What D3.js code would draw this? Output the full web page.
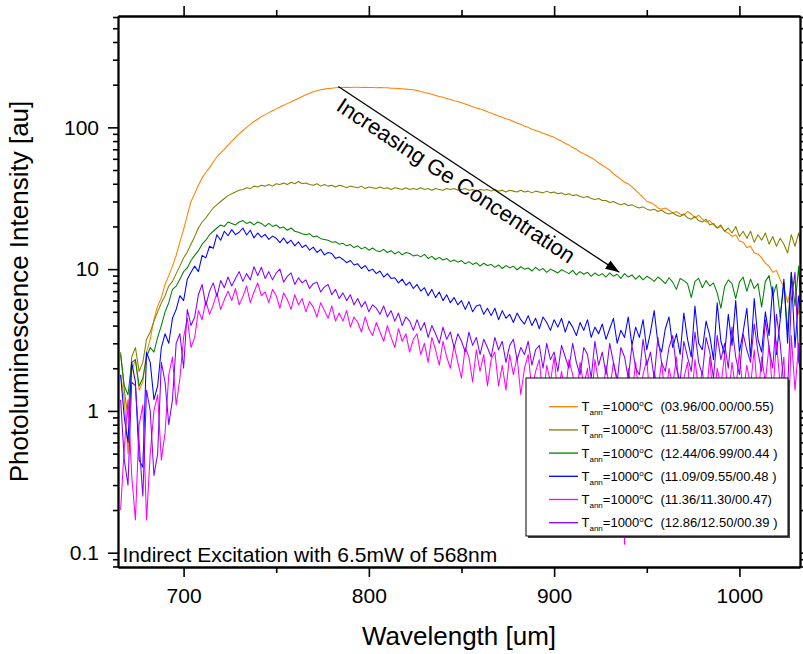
<!DOCTYPE html>
<html>
<head>
<meta charset="utf-8">
<script src="https://cdn.jsdelivr.net/npm/d3@7"></script>
<style>
  body { margin: 0; background: #fff; }
  svg { font-family: "Liberation Sans", Arial, sans-serif; }
</style>
</head>
<body>
<svg width="803" height="654"></svg>
<script>
// wavelength grid [nm], one row = 20 nm
var wavelength = [
  666,668,670,672,674,676,678,680,682,684,
  686,688,690,692,694,696,698,700,702,704,
  706,708,710,712,714,716,718,720,722,724,
  726,728,730,732,734,736,738,740,742,744,
  746,748,750,752,754,756,758,760,762,764,
  766,768,770,772,774,776,778,780,782,784,
  786,788,790,792,794,796,798,800,802,804,
  806,808,810,812,814,816,818,820,822,824,
  826,828,830,832,834,836,838,840,842,844,
  846,848,850,852,854,856,858,860,862,864,
  866,868,870,872,874,876,878,880,882,884,
  886,888,890,892,894,896,898,900,902,904,
  906,908,910,912,914,916,918,920,922,924,
  926,928,930,932,934,936,938,940,942,944,
  946,948,950,952,954,956,958,960,962,964,
  966,968,970,972,974,976,978,980,982,984,
  986,988,990,992,994,996,998,1000,1002,1004,
  1006,1008,1010,1012,1014,1016,1018,1020,1022,1024,
  1026,1028,1030,1032,1034
];

var orangeValues = [
  1.8,1.2,0.5,1.9,2.3,1.4,1.6,2.6,3.2,4.4,
  5.5,6.3,7.8,9.0,10.5,12.5,15.5,19,24,30,
  34,39,44,48,52,57,62,66,70,75,
  80,85,90,95,100,105,110,114,119,123,
  127,131,135,139,143,147,151,156,160,165,
  170,174,178,181,184,186,188,189,190,191,
  191,192,191,192,192,191,192,191,191,190,
  191,190,190,189,189,188,187,186,185,184,
  182,179,176,174,171,168,165,163,160,157,
  154,152,149,146,143,140,137,135,132,129,
  126,123,120,118,115,113,110,107,105,102,
  100,97,95,93,91,89,87,85,82,80,
  77,75,72,70,67,65,63,61,59,56,
  54,52,50,47,45,43,41,40,38,36,
  34,32,30,29.5,28.5,27,26.5,27,26,25,
  25.5,24.5,24,25.5,24.5,23,24,22.5,21.5,22,
  20.5,19.5,20,18.5,18,17,17.5,15.8,15.5,14.2,
  14.5,13,12.8,12,11,10.5,9.5,9.8,8.4,7.5,
  5.8,7.5,8.2,4.8,6.0
];
var oliveValues = [
  2.6,1.4,0.9,2.4,2.8,1.9,2.2,3.2,3.6,4.3,
  5.0,5.8,6.5,7.6,8.2,9.3,10.5,12,13.2,15,
  17,19.5,21.5,23,25,27,28.5,30,31.5,33,
  34,35,36,36.5,37.5,37,38.5,38,39,38.5,
  39.5,38.5,40,39.5,40.5,39.5,41,40,41.5,40,
  40.5,39.5,39,40,38.5,39.5,38.5,39,38,39,
  38.5,37.5,38.5,38,37.5,38.5,37,38,37.5,37,
  38,37,37.5,36.5,37.5,37,36.5,37.5,36.5,37,
  36.5,37.5,36.5,37,36,37,36.5,36,37,36.5,
  37,36,36.5,37,36,36.5,35.5,36.5,36,36.5,
  35.5,36.5,35.5,36,35,36,35.5,35,36,35,
  35.5,34.5,35.5,35,34.5,35.5,34.5,35,34,34.5,
  33.5,34,33,33.5,32.5,32,32.5,31.5,31,31.5,
  30.5,30.5,29.5,30,29,28.5,29,28,28.5,27.5,
  27,27.5,26.5,26,26.5,25.5,26,25,24.5,25,
  24,23.5,24.5,23,22.5,23.5,22,21.5,22.5,20.5,
  21,19.5,20.5,18.5,19.5,18,20,17,18.5,16.5,
  18.5,15.5,17.5,16,18,15,17,14.5,16.5,15,
  13,17.5,14.5,18,12.5
];
var greenValues = [
  2.5,1.5,1.3,2.2,2.3,1.5,1.7,2.4,2.8,2.6,
  3.3,4.0,5.0,5.8,7.2,7.6,8.5,9.6,10.2,11.5,
  12.5,13.5,15,16,17.5,18.5,19.5,20.5,20,21.5,
  21,20.5,21.5,22,21,21.5,20.5,21.5,21,20,
  21,20,20.5,19.5,19.8,18.8,19.5,18.5,18.2,17.8,
  17.5,17.8,16.9,17.1,16.4,16.2,16.0,15.5,15.6,15.0,
  15.2,14.6,14.9,14.2,14.6,13.9,14.3,13.6,14.1,13.5,
  13.3,13.8,13.1,13.5,12.8,13.3,12.6,13.1,12.9,12.4,
  12.6,12.2,12.7,11.9,12.3,11.7,12.1,11.6,11.9,11.3,
  11.6,11.2,11.5,10.9,11.3,10.8,11.1,10.5,11.0,10.6,
  10.8,10.3,10.7,10.1,10.6,10.2,10.5,9.9,10.4,10.0,
  10.2,9.7,10.3,9.8,10.1,9.5,10.0,9.7,9.4,9.9,
  9.6,9.3,9.8,9.1,9.6,9.2,9.5,8.9,9.4,9.0,
  9.3,8.8,9.4,8.9,9.2,8.6,9.3,8.8,9.1,8.5,
  9.0,8.4,8.9,8.6,8.2,8.8,8.4,7.9,8.7,8.1,
  7.2,8.6,8.3,7.9,6.3,8.2,8.6,7.4,8.3,7.6,
  8.0,6.8,5.3,7.5,8.4,7.9,6.2,8.1,8.8,7.0,
  8.5,7.3,7.9,5.4,8.2,9.0,6.5,7.8,4.6,8.0,
  3.6,9.5,5.5,10.5,3.2
];
var blueValues = [
  1.8,0.9,0.6,2.2,1.6,0.45,0.4,2.6,2.2,1.2,
  1.5,2.8,3.5,3.0,4.5,5.2,6.5,6.0,8.5,9.5,
  10.5,9.6,12.5,12,14.5,14,17.5,16,18.5,17.2,
  19,17.5,18.2,19.5,17.4,18.8,16.6,18,16.8,17.6,
  16.2,17.1,16.5,15.4,16.6,15.2,16.0,14.6,15.6,14.2,
  14.8,13.6,14.3,13.1,13.8,12.6,13.1,12.9,11.9,12.2,
  11.7,11.1,11.5,10.7,10.9,10.1,10.6,9.7,10.0,9.3,
  9.7,8.8,9.3,8.6,8.7,8.0,8.5,7.7,8.1,7.3,
  7.8,7.0,7.4,6.5,7.2,6.3,6.9,6.0,6.6,5.8,
  6.3,5.6,6.0,5.2,5.9,5.0,5.5,5.6,4.8,5.3,
  4.7,5.3,4.4,5.1,4.5,4.8,4.2,4.9,4.4,4.1,
  4.7,4.0,4.5,3.8,4.6,4.2,3.7,4.4,3.9,4.5,
  3.6,4.3,3.9,3.4,4.2,3.7,4.4,3.3,3.9,3.5,
  4.1,3.2,3.8,4.5,3.0,3.7,3.3,4.6,2.9,3.9,
  3.3,4.4,2.7,3.6,5.1,3.0,2.6,3.8,4.6,2.8,
  3.5,2.5,4.9,3.2,2.4,5.5,3.0,2.7,4.3,3.4,
  2.3,5.8,3.1,2.5,4.8,2.9,6.0,2.6,3.6,5.3,
  2.4,6.2,3.2,2.6,5.0,3.4,7.5,2.5,4.4,8.5,
  3.0,9.5,2.8,6.5,4.0
];
var magentaValues = [
  0.2,0.55,1.2,0.35,0.17,0.8,1.1,0.17,0.5,1.0,
  1.3,0.45,0.7,1.8,2.4,1.1,1.7,3.3,4.5,2.8,
  3.3,5.1,4.4,6.0,4.8,5.6,6.8,5.2,6.1,7.0,
  6.0,7.3,5.6,6.4,7.6,5.8,6.9,8.0,6.5,6.9,
  5.8,7.2,6.5,5.3,6.8,6.1,5.2,6.6,5.6,6.2,
  5.0,5.9,5.4,4.6,5.8,5.1,4.5,5.5,4.3,4.9,
  4.3,5.1,3.9,4.6,4.2,3.6,4.6,3.8,3.4,4.2,
  3.6,3.1,4.0,3.3,2.8,3.8,3.1,3.5,2.6,3.2,
  3.5,2.5,3.0,2.2,3.3,2.7,2.1,3.1,2.4,2.0,
  2.9,2.2,1.7,2.8,2.4,1.6,2.7,1.9,2.5,1.5,
  2.3,2.6,1.5,2.1,1.4,2.5,1.8,2.4,1.3,2.0,
  2.5,1.4,1.9,2.3,1.2,2.1,1.6,2.4,1.3,1.9,
  1.3,2.3,1.8,1.2,2.2,1.5,2.0,1.1,2.3,1.6,
  1.2,2.1,1.4,2.2,1.7,1.1,0.115,2.0,1.3,2.2,
  1.2,1.8,2.3,1.1,1.9,1.4,2.2,1.2,2.0,1.5,
  2.4,1.2,1.7,2.2,1.1,2.3,1.4,1.9,1.2,2.4,
  1.1,2.0,1.5,2.5,1.2,2.2,1.4,2.6,1.3,2.1,
  1.5,2.7,1.2,2.4,1.6,2.9,1.3,3.1,1.5,2.4,
  0.55,3.4,1.4,3.0,1.2
];
var violetValues = [
  1.2,0.45,0.3,1.6,1.5,0.6,0.25,1.4,1.0,0.35,
  0.5,2.2,1.6,0.8,1.2,3.0,3.5,2.0,5.2,4.0,
  4.6,6.6,7.8,5.5,7.0,8.0,6.4,8.3,7.4,8.8,
  7.6,8.6,9.6,8.2,9.3,8.4,10.4,9.0,10.3,8.6,
  9.6,8.4,9.4,10.0,8.1,8.9,9.4,7.8,8.7,8.0,
  8.4,7.3,7.9,8.1,6.9,7.5,7.8,6.6,7.2,6.2,
  6.8,6.0,6.6,5.6,6.2,5.4,5.9,5.0,5.6,5.3,
  4.8,5.5,4.6,5.1,4.3,4.9,4.0,4.6,4.3,3.7,
  4.4,3.7,4.2,3.3,4.0,3.5,3.0,3.9,3.2,3.6,
  2.8,3.5,3.1,2.6,3.6,2.9,3.3,2.5,3.2,2.8,
  2.4,3.3,2.7,3.1,2.2,2.9,3.2,2.3,2.8,2.5,
  3.1,2.1,2.7,2.9,2.0,3.0,2.3,2.6,1.9,2.9,
  2.4,2.0,3.0,2.2,1.8,2.8,2.5,1.7,3.1,2.1,
  2.6,1.8,3.0,2.2,1.6,2.8,2.4,1.7,2.9,2.0,
  1.8,3.2,2.1,2.6,1.7,3.3,2.2,1.9,2.8,3.4,
  2.0,1.6,3.1,2.4,1.9,3.6,2.2,1.8,3.3,2.6,
  1.7,3.4,2.3,3.0,2.0,3.9,2.4,1.8,3.5,2.7,
  2.2,4.1,2.6,1.9,4.4,2.8,2.0,4.8,3.0,1.5,
  1.4,6.0,9.5,2.2,1.8
];

var seriesLabels = [
  "03.96/00.00/00.55",
  "11.58/03.57/00.43",
  "12.44/06.99/00.44 ",
  "11.09/09.55/00.48 ",
  "11.36/11.30/00.47",
  "12.86/12.50/00.39 "
];
var seriesColors = ["#ff8000", "#808000", "#008000", "#0000ff", "#ff00ff", "#8000ff"];
var seriesValues = [orangeValues, oliveValues, greenValues, blueValues, magentaValues, violetValues];

var xTicks = [700, 800, 900, 1000];
var xMinorTicks = [750, 850, 950];
var yTicks = [0.1, 1, 10, 100];

// arrow annotation, in data units
var arrowFrom = [783.5, 194];
var arrowTo = [935.2, 9.5];

var svg = d3.select("svg");
var plotL = 118, plotR = 800, plotT = 16, plotB = 567;

var x = d3.scaleLinear().domain([664.6, 1032.7]).range([plotL, plotR]);
var y = d3.scaleLog().domain([0.0793, 610]).range([plotB, plotT]);

svg.append("defs").append("clipPath").attr("id", "plotclip")
  .append("rect").attr("x", plotL).attr("y", plotT)
  .attr("width", plotR - plotL).attr("height", plotB - plotT);

// spectra
var line = d3.line()
  .x(function(d) { return x(d[0]); })
  .y(function(d) { return y(d[1]); });

var plot = svg.append("g").attr("clip-path", "url(#plotclip)");
seriesValues.forEach(function(vals, i) {
  plot.append("path")
    .datum(wavelength.map(function(w, j) { return [w, vals[j]]; }))
    .attr("d", line)
    .attr("fill", "none")
    .attr("stroke", seriesColors[i])
    .attr("stroke-width", 1.05)
    .attr("stroke-linejoin", "round");
});

// axes
var yMinor = y.ticks().filter(function(v) { return yTicks.indexOf(v) < 0; });

function styleAxis(g) {
  g.selectAll(".domain").attr("stroke", "#000").attr("stroke-width", 1.8);
  g.selectAll(".tick line").attr("stroke", "#000").attr("stroke-width", 1.6);
  g.selectAll("text").attr("fill", "#000").style("font-size", "21px")
    .style("font-family", "'Liberation Sans', Arial, sans-serif");
}

svg.append("g").attr("transform", "translate(0," + plotB + ")")
  .call(d3.axisBottom(x).tickValues(xTicks).tickSize(10).tickSizeOuter(0).tickPadding(11).tickFormat(d3.format("d")))
  .call(styleAxis);
svg.append("g").attr("transform", "translate(0," + plotB + ")")
  .call(d3.axisBottom(x).tickValues(xMinorTicks).tickSize(6).tickSizeOuter(0).tickFormat(""))
  .call(styleAxis);
svg.append("g").attr("transform", "translate(0," + plotT + ")")
  .call(d3.axisTop(x).tickValues(xTicks).tickSize(10).tickSizeOuter(0).tickFormat(""))
  .call(styleAxis);
svg.append("g").attr("transform", "translate(0," + plotT + ")")
  .call(d3.axisTop(x).tickValues(xMinorTicks).tickSize(6).tickSizeOuter(0).tickFormat(""))
  .call(styleAxis);

svg.append("g").attr("transform", "translate(" + plotL + ",0)")
  .call(d3.axisLeft(y).tickValues(yTicks).tickSize(10).tickSizeOuter(0).tickPadding(9).tickFormat(function(d) { return String(d); }))
  .call(styleAxis);
svg.append("g").attr("transform", "translate(" + plotL + ",0)")
  .call(d3.axisLeft(y).tickValues(yMinor).tickSize(5).tickSizeOuter(0).tickFormat(""))
  .call(styleAxis);
svg.append("g").attr("transform", "translate(" + plotR + ",0)")
  .call(d3.axisRight(y).tickValues(yTicks).tickSize(10).tickSizeOuter(0).tickFormat(""))
  .call(styleAxis);
svg.append("g").attr("transform", "translate(" + plotR + ",0)")
  .call(d3.axisRight(y).tickValues(yMinor).tickSize(5).tickSizeOuter(0).tickFormat(""))
  .call(styleAxis);

// axis titles
svg.append("text")
  .attr("transform", "translate(28," + ((plotT + plotB) / 2) + ") rotate(-90)")
  .attr("text-anchor", "middle")
  .style("font-size", "26px")
  .text("Photoluminescence Intensity [au]");

svg.append("text")
  .attr("x", (plotL + plotR) / 2).attr("y", 645)
  .attr("text-anchor", "middle")
  .style("font-size", "26px")
  .text("Wavelength [um]");

svg.append("text")
  .attr("x", plotL + 4.5).attr("y", 562)
  .style("font-size", "21px")
  .text("Indirect Excitation with 6.5mW of 568nm");

// arrow + label
svg.append("defs").append("marker")
  .attr("id", "head").attr("markerUnits", "userSpaceOnUse")
  .attr("markerWidth", 16).attr("markerHeight", 10)
  .attr("refX", 14).attr("refY", 5).attr("orient", "auto")
  .append("path").attr("d", "M0,0L14,5L0,10Z").attr("fill", "#000");

var ax0 = x(arrowFrom[0]), ay0 = y(arrowFrom[1]);
var ax1 = x(arrowTo[0]), ay1 = y(arrowTo[1]);
svg.append("line")
  .attr("x1", ax0).attr("y1", ay0).attr("x2", ax1).attr("y2", ay1)
  .attr("stroke", "#000").attr("stroke-width", 1.3)
  .attr("marker-end", "url(#head)");

var angle = Math.atan2(ay1 - ay0, ax1 - ax0) * 180 / Math.PI;
svg.append("text")
  .attr("transform", "translate(" + ax0 + "," + ay0 + ") rotate(" + angle + ")")
  .attr("x", 10).attr("y", 21)
  .style("font-size", "22px")
  .text("Increasing Ge Concentration");

// legend
var lg = svg.append("g");
lg.append("rect").attr("x", 528).attr("y", 380).attr("width", 262).attr("height", 158).attr("fill", "#444");
lg.append("rect").attr("x", 526).attr("y", 378).attr("width", 262).attr("height", 158)
  .attr("fill", "#fff").attr("stroke", "#000").attr("stroke-width", 1);

seriesLabels.forEach(function(lbl, i) {
  var ry = 406.7 + i * 23.2;
  lg.append("line").attr("x1", 549).attr("x2", 578).attr("y1", ry).attr("y2", ry)
    .attr("stroke", seriesColors[i]).attr("stroke-width", 1.3);
  var t = lg.append("text").attr("x", 581.5).attr("y", ry + 4.5)
    .style("font-size", "13px").style("white-space", "pre");
  t.append("tspan").text("T");
  t.append("tspan").attr("dy", 4).style("font-size", "8px").text("ann");
  t.append("tspan").attr("dy", -4).text("=1000");
  t.append("tspan").attr("dy", -5).style("font-size", "8px").text("o");
  t.append("tspan").attr("dy", 5).text("C  (" + lbl + ")");
});
</script>
</body>
</html>
